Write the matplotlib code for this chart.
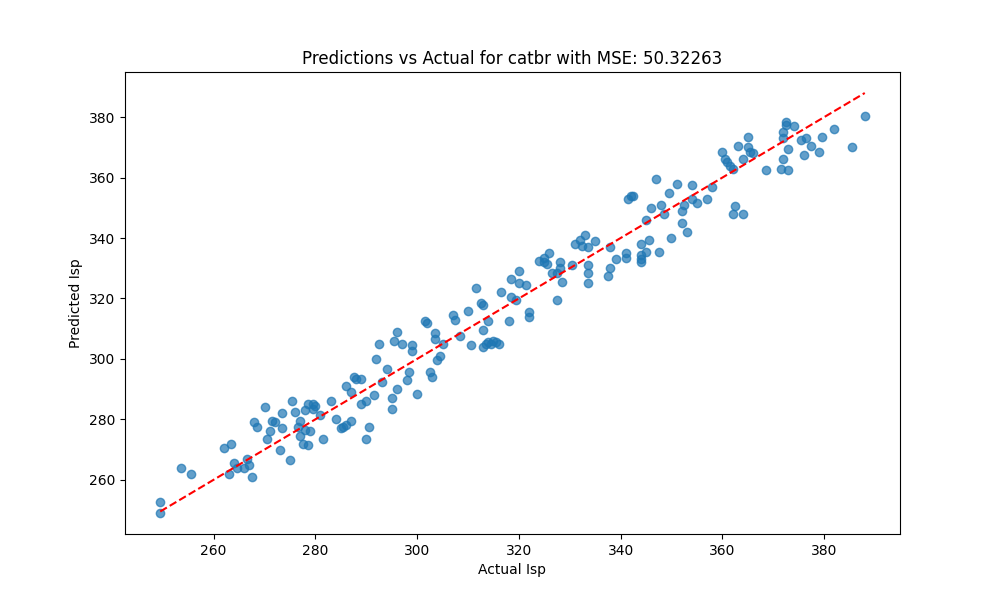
import matplotlib
matplotlib.use('Agg')
import matplotlib.pyplot as plt

# Actual vs predicted Isp values
actual = [249.5, 249.5, 253.5, 255.5, 262, 263, 263.5, 264, 264.5, 266, 266.5, 267, 267.5, 268, 268.5,
          270, 270.5, 271, 271.5, 272, 273, 273.5, 273.5, 275, 275.5, 276, 276.5, 277, 277, 277.5,
          278, 278, 278.5, 278.5, 279, 279.5, 279.5, 280, 281, 281.5, 283, 284, 285, 285.5, 286,
          286, 287, 287, 287.5, 288, 289, 289, 290, 290, 290.5, 291.5, 292, 292.5, 293, 294,
          295, 295, 295.5, 296, 296, 297, 298, 298.5, 299, 299, 300, 301.5, 302, 302.5, 303,
          303.5, 303.5, 304, 304.5, 305, 307, 307.5, 308.5, 310, 310.5, 311.5, 312.5, 313, 313, 313,
          313.5, 314, 314, 314.5, 315, 315.5, 316, 316.5, 318, 318.5, 318.5, 319.5, 320, 320, 321.5,
          322, 322, 324, 325, 325, 325.5, 326, 326.5, 327.5, 327.5, 328, 328, 328.5, 330.5, 331,
          332, 332.5, 333, 333.5, 333.5, 333.5, 333.5, 335, 337.5, 338, 338, 339, 341, 341, 341.5,
          342, 342.5, 344, 344, 344, 344, 345, 345, 345.5, 346, 347, 347.5, 348, 348.5, 349.5,
          350, 351, 352, 352, 352.5, 353, 354, 354, 355, 357, 358, 360, 360.5, 361, 361.5,
          362, 362, 362.5, 363, 364, 364, 365, 365, 365.5, 366, 368.5, 371.5, 372, 372, 372,
          372.5, 372.5, 373, 373, 374, 375.5, 376, 376.5, 377.5, 379, 379.5, 382, 385.5, 388]
predicted = [252.5, 249, 264, 262, 270.5, 262, 272, 265.5, 264, 264, 267, 265, 261, 279, 277.5,
             284, 273.5, 276, 279.5, 279, 270, 282, 277, 266.5, 286, 282.5, 277.5, 274.5, 279.5, 272,
             283, 276.5, 271.5, 285, 276, 285, 283.5, 284.5, 281.5, 273.5, 286, 280, 277, 277.5, 278,
             291, 279.5, 289, 294, 293.5, 293.5, 285, 273.5, 286, 277.5, 288, 300, 305, 292.5, 296.5,
             287, 283.5, 306, 309, 290, 305, 293, 295.5, 304.5, 302.5, 288.5, 312.5, 312, 295.5, 294,
             306.5, 308.5, 299.5, 301, 305, 314.5, 313, 307.5, 316, 304.5, 323.5, 318.5, 318, 309.5, 304,
             305, 305.5, 312.5, 305, 306, 305.5, 305, 322, 312.5, 320.5, 326.5, 319.5, 329, 325, 324.5,
             315.5, 314, 332.5, 332, 333.5, 331.5, 335, 328.5, 319.5, 328.5, 332, 330, 325.5, 331, 338,
             339.5, 337.5, 341, 337, 331, 328.5, 325, 339, 327.5, 330, 337, 333, 335, 333.5, 353,
             354, 354, 338, 334.5, 333, 332, 346, 335.5, 339.5, 350, 359.5, 335.5, 351, 348, 355,
             340, 358, 349, 345, 351, 342, 357.5, 353, 351.5, 353, 357, 368.5, 366, 365, 364,
             348, 363, 350.5, 370.5, 348, 366, 373.5, 370, 368.5, 368, 362.5, 363, 375, 373, 366,
             378.5, 377.5, 369.5, 362.5, 377, 372.5, 367.5, 373, 370.5, 368.5, 373.5, 376, 370, 380.5]

mse = 50.32263

fig, ax = plt.subplots(figsize=(10, 6))
ax.scatter(actual, predicted, alpha=0.7)
lo, hi = min(actual), max(actual)
ax.plot([lo, hi], [lo, hi], 'r--', linewidth=1.5)
ax.set_xlabel('Actual Isp')
ax.set_ylabel('Predicted Isp')
ax.set_title(f'Predictions vs Actual for catbr with MSE: {mse}')
plt.savefig('out.png', dpi=100)
